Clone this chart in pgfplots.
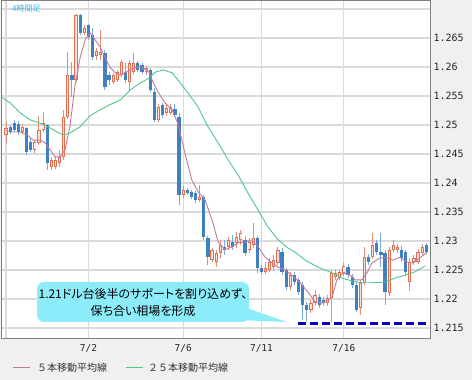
\documentclass[border=0pt]{standalone}
\usepackage{pgfplots}
\pgfplotsset{compat=1.18}
\usepackage{pgfplotstable}
\usepackage{fontspec}
\newfontfamily\monof{DejaVu Sans Mono}
\newfontfamily\jp{Noto Sans CJK JP}
\newfontfamily\jpp[RawFeature=+palt]{Noto Sans CJK JP}

\definecolor{candleBlue}{RGB}{64,128,192}
\definecolor{wickBlue}{RGB}{120,170,220}
\definecolor{candleRed}{RGB}{226,110,80}
\definecolor{redFill}{RGB}{252,228,220}
\definecolor{wickRed}{RGB}{232,140,115}
\definecolor{maPink}{RGB}{195,120,160}
\definecolor{maGreen}{RGB}{80,200,140}
\definecolor{calloutC}{RGB}{140,236,250}
\definecolor{gridC}{RGB}{218,218,218}
\definecolor{bgC}{RGB}{240,240,240}
\definecolor{titleC}{RGB}{60,180,235}
\definecolor{dashC}{RGB}{0,0,190}

% bullish candles (red, hollow): index open close high low
\pgfplotstableread{
i o c h l
0 1.2483 1.2495 1.2505 1.2469
4 1.2488 1.2497 1.2502 1.2485
7 1.2457 1.2471 1.2474 1.2452
8 1.2469 1.2491 1.2516 1.2466
9 1.2491 1.2503 1.2522 1.2488
11 1.2428 1.2440 1.2445 1.2422
12 1.2428 1.2440 1.2447 1.2424
13 1.2435 1.2445 1.2457 1.2428
14 1.2445 1.2514 1.2526 1.2440
15 1.2514 1.2586 1.2626 1.2510
17 1.2578 1.2690 1.2691 1.2574
19 1.2659 1.2667 1.2672 1.2655
22 1.2619 1.2628 1.2633 1.2612
23 1.2621 1.2626 1.2664 1.2612
26 1.2574 1.2586 1.2590 1.2571
27 1.2578 1.2591 1.2595 1.2574
28 1.2586 1.2609 1.2612 1.2583
30 1.2574 1.2607 1.2612 1.2560
31 1.2591 1.2607 1.2624 1.2588
34 1.2591 1.2598 1.2602 1.2586
37 1.2509 1.2531 1.2536 1.2505
39 1.2521 1.2529 1.2535 1.2516
40 1.2521 1.2531 1.2536 1.2517
43 1.2379 1.2388 1.2395 1.2374
47 1.2371 1.2376 1.2397 1.2367
50 1.2267 1.2285 1.2288 1.2264
51 1.2264 1.2279 1.2285 1.2255
52 1.2279 1.2293 1.2302 1.2271
54 1.2290 1.2302 1.2307 1.2285
56 1.2297 1.2307 1.2316 1.2288
57 1.2302 1.2314 1.2319 1.2293
59 1.2285 1.2298 1.2305 1.2279
60 1.2293 1.2305 1.2331 1.2288
63 1.2247 1.2253 1.2264 1.2243
64 1.2250 1.2264 1.2271 1.2247
65 1.2255 1.2267 1.2276 1.2250
66 1.2262 1.2285 1.2290 1.2259
69 1.2221 1.2241 1.2247 1.2216
74 1.2181 1.2193 1.2198 1.2176
75 1.2193 1.2207 1.2216 1.2188
78 1.2193 1.2202 1.2207 1.2188
79 1.2202 1.2245 1.2250 1.2160
80 1.2238 1.2245 1.2250 1.2233
81 1.2238 1.2247 1.2250 1.2233
82 1.2245 1.2257 1.2262 1.2240
86 1.2185 1.2228 1.2233 1.2172
87 1.2228 1.2272 1.2290 1.2224
89 1.2272 1.2293 1.2314 1.2269
93 1.2210 1.2285 1.2290 1.2205
94 1.2285 1.2293 1.2302 1.2281
95 1.2285 1.2290 1.2295 1.2279
98 1.2229 1.2264 1.2271 1.2214
99 1.2264 1.2271 1.2276 1.2259
100 1.2264 1.2281 1.2286 1.2260
101 1.2279 1.2290 1.2295 1.2274
}\redtab

% bearish candles (blue, filled)
\pgfplotstableread{
i o c h l
1 1.2497 1.2488 1.2500 1.2485
2 1.2503 1.2491 1.2509 1.2488
3 1.2502 1.2488 1.2507 1.2483
5 1.2495 1.2453 1.2497 1.2448
6 1.2471 1.2457 1.2478 1.2453
10 1.2500 1.2435 1.2502 1.2422
16 1.2586 1.2578 1.2609 1.2548
18 1.2690 1.2659 1.2691 1.2655
20 1.2672 1.2652 1.2674 1.2647
21 1.2655 1.2617 1.2667 1.2612
24 1.2624 1.2566 1.2629 1.2560
25 1.2586 1.2578 1.2591 1.2569
29 1.2591 1.2578 1.2607 1.2572
32 1.2607 1.2595 1.2610 1.2591
33 1.2603 1.2591 1.2607 1.2588
35 1.2595 1.2560 1.2598 1.2557
36 1.2557 1.2509 1.2564 1.2505
38 1.2535 1.2517 1.2538 1.2512
41 1.2528 1.2517 1.2536 1.2514
42 1.2514 1.2379 1.2521 1.2362
44 1.2388 1.2383 1.2391 1.2379
45 1.2385 1.2376 1.2388 1.2372
46 1.2383 1.2371 1.2386 1.2366
48 1.2376 1.2307 1.2379 1.2302
49 1.2305 1.2272 1.2309 1.2259
53 1.2290 1.2285 1.2302 1.2276
55 1.2298 1.2290 1.2310 1.2285
58 1.2302 1.2279 1.2309 1.2274
61 1.2305 1.2253 1.2309 1.2245
62 1.2253 1.2247 1.2259 1.2241
67 1.2281 1.2247 1.2288 1.2241
68 1.2250 1.2221 1.2253 1.2216
70 1.2241 1.2229 1.2247 1.2224
71 1.2233 1.2212 1.2236 1.2207
72 1.2224 1.2190 1.2229 1.2164
73 1.2190 1.2181 1.2195 1.2160
76 1.2203 1.2190 1.2209 1.2185
77 1.2198 1.2193 1.2203 1.2188
83 1.2255 1.2241 1.2260 1.2236
84 1.2238 1.2224 1.2243 1.2219
85 1.2224 1.2181 1.2229 1.2178
88 1.2272 1.2264 1.2278 1.2259
90 1.2297 1.2281 1.2302 1.2276
91 1.2281 1.2276 1.2314 1.2255
92 1.2279 1.2212 1.2285 1.2190
96 1.2285 1.2271 1.2291 1.2264
97 1.2281 1.2247 1.2285 1.2241
102 1.2293 1.2281 1.2297 1.2278
}\bluetab

\pgfplotstableread{
x y
0 1.2491
1 1.2488
3.4 1.2488
5.1 1.2483
6.6 1.2474
8.3 1.2474
9.5 1.2469
10.7 1.2457
11.9 1.2445
13.1 1.2445
14.3 1.2457
15.5 1.2497
16.7 1.2566
18.0 1.2617
19.2 1.2647
20.4 1.2659
21.6 1.2647
22.8 1.2635
24.0 1.2617
25.2 1.2600
26.5 1.2590
27.7 1.2586
28.9 1.2590
30.1 1.2595
31.8 1.2600
33.3 1.2598
34.7 1.2591
35.4 1.2578
36.9 1.2557
38.6 1.2538
40.3 1.2526
41.7 1.2503
43.4 1.2452
45.1 1.2405
46.6 1.2385
48.3 1.2371
50.0 1.2336
51.5 1.2298
53.2 1.2285
54.9 1.2290
56.3 1.2297
58.0 1.2298
59.7 1.2302
61.2 1.2290
62.9 1.2272
64.6 1.2262
66.0 1.2255
67.7 1.2250
69.4 1.2241
71.4 1.2228
73.8 1.2207
75.0 1.2195
76.9 1.2193
79.1 1.2203
80.3 1.2233
81.8 1.2245
83.5 1.2241
84.7 1.2233
86.4 1.2233
87.6 1.2245
88.8 1.2262
90.8 1.2271
92.5 1.2271
93.9 1.2267
95.6 1.2272
97.3 1.2264
98.8 1.2262
100.5 1.2271
102.2 1.2281
}\mafive

\pgfplotstableread{
x y
-1.1 1.2548
1.0 1.2538
3.4 1.2521
5.8 1.2509
8.3 1.2503
10.7 1.2495
13.1 1.2485
14.3 1.2483
15.5 1.2486
18.0 1.2497
20.4 1.2516
22.8 1.2526
25.2 1.2535
27.7 1.2543
30.1 1.2560
32.5 1.2572
34.7 1.2581
36.2 1.2591
38.1 1.2595
40.3 1.2590
41.7 1.2578
44.2 1.2555
46.6 1.2531
49.0 1.2497
51.5 1.2469
53.9 1.2440
56.3 1.2414
58.7 1.2383
61.2 1.2353
63.6 1.2324
66.0 1.2302
68.4 1.2288
70.1 1.2281
72.6 1.2267
75.7 1.2255
79.1 1.2245
81.6 1.2236
84.0 1.2231
86.4 1.2228
88.8 1.2228
92.0 1.2229
94.4 1.2236
96.8 1.2241
99.3 1.2247
101.7 1.2257
}\matwentyfive

\begin{document}
\begin{tikzpicture}
\path[use as bounding box, fill=bgC] (0,0) rectangle (472bp,380bp);
\begin{axis}[
  at={(1.5bp,41bp)}, anchor=south west,
  scale only axis, width=428.5bp, height=338bp,
  xmin=-1.1, xmax=102.9, ymin=1.2131, ymax=1.27138,
  axis background/.style={fill=white},
  xtick={0,20,43,62,82}, xticklabels={,7/2,7/6,7/11,7/16},
  ytick={1.215,1.22,1.225,1.23,1.235,1.24,1.245,1.25,1.255,1.26,1.265,1.27},
  yticklabels={1.215,1.22,1.225,1.23,1.235,1.24,1.245,1.25,1.255,1.26,1.265,{}},
  yticklabel pos=right,
  major tick length=0pt,
  xmajorgrids, ymajorgrids,
  major grid style={draw=gridC, line width=1.1bp},
  axis line style={draw=gray, line width=1bp},
  ticklabel style={font=\monof\fontsize{10bp}{12bp}\selectfont, text=black!85},
  xticklabel style={yshift=-2bp, font=\monof\fontsize{9.5bp}{11bp}\selectfont},
]
% wicks
\addplot[wickBlue, line width=1bp, quiver={u=0, v=\thisrow{h}-\thisrow{l}}] table[x=i, y=l] {\bluetab};
\addplot[wickRed, line width=1bp, quiver={u=0, v=\thisrow{h}-\thisrow{l}}] table[x=i, y=l] {\redtab};
% bodies
\addplot[candleBlue, line width=3.2bp, quiver={u=0, v=\thisrow{c}-\thisrow{o}}] table[x=i, y=o] {\bluetab};
\addplot[candleRed, line width=3.2bp, quiver={u=0, v=\thisrow{c}-\thisrow{o}}] table[x=i, y=o] {\redtab};
\addplot[redFill, line width=1.3bp, shorten >=0.9bp, shorten <=0.9bp, quiver={u=0, v=\thisrow{c}-\thisrow{o}}] table[x=i, y=o] {\redtab};
% moving averages
\addplot[maPink, line width=0.9bp, line join=round, mark=none] table[x=x, y=y] {\mafive};
\addplot[maGreen, line width=0.9bp, line join=round, mark=none] table[x=x, y=y] {\matwentyfive};
% support line
\addplot[dashC, line width=3bp, dash pattern=on 8bp off 4bp, mark=none] coordinates {(70.9,1.2157) (102.9,1.2157)};
\end{axis}
\begin{scope}[x=1bp, y=1bp]
% callout
\fill[calloutC, rounded corners=7bp] (37,58) rectangle (249,98);
\fill[calloutC] (238,75) -- (287,58) -- (238,60) -- cycle;
\node[font=\jpp\fontsize{12bp}{14bp}\selectfont, text=black, inner sep=0pt] at (143,86) {1.21ドル台後半のサポートを割り込めず、};
\node[font=\jpp\fontsize{12bp}{14bp}\selectfont, text=black, inner sep=0pt] at (143,69) {保ち合い相場を形成};
% title
\node[anchor=west, font=\jp\fontsize{8bp}{10bp}\selectfont, text=titleC, inner sep=0pt] at (12,371.5) {4時間足};
% legend
\draw[maPink, line width=1.2bp] (13,12.5) -- (30,12.5);
\node[anchor=west, font=\jp\fontsize{10bp}{12bp}\selectfont, text=black!80, inner sep=0pt] at (37,12.5) {５本移動平均線};
\draw[maGreen, line width=1.2bp] (126,12.5) -- (143,12.5);
\node[anchor=west, font=\jp\fontsize{10bp}{12bp}\selectfont, text=black!80, inner sep=0pt] at (148,12.5) {２５本移動平均線};
\end{scope}
\end{tikzpicture}
\end{document}
